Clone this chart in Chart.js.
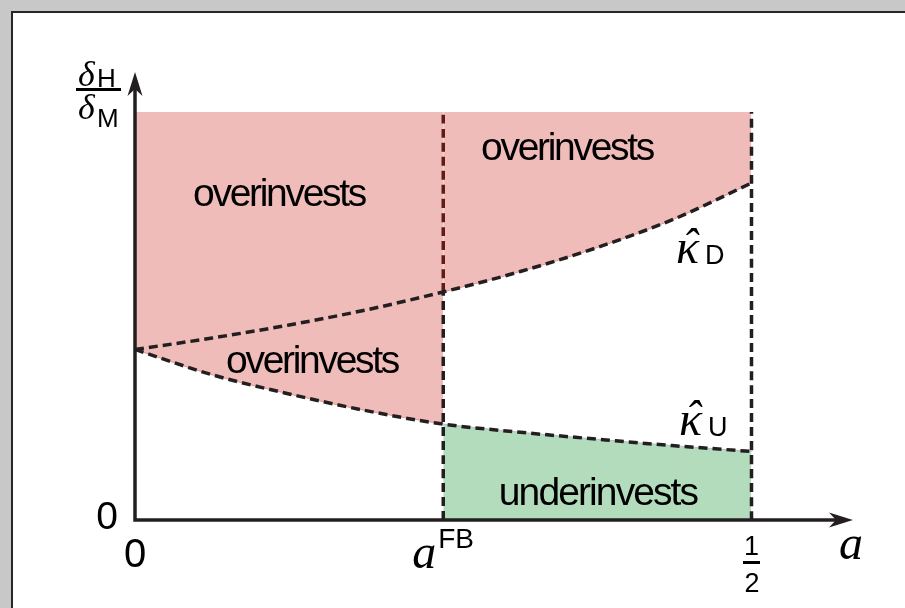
<!DOCTYPE html>
<html>
<head>
<meta charset="utf-8">
<script src="https://cdn.jsdelivr.net/npm/chart.js@4.4.1/dist/chart.umd.min.js"></script>
<style>
  html, body { margin: 0; padding: 0; width: 905px; height: 608px; overflow: hidden; background: #c8c8c8; }
  #panel { position: absolute; left: 11px; top: 11px; width: 910px; height: 610px; background: #fff;
           border-left: 2.5px solid #262626; border-top: 2.5px solid #262626; }
  #chart { position: absolute; left: 0; top: 0; }
</style>
</head>
<body>
<div id="panel"></div>
<canvas id="chart" width="905" height="608"></canvas>
<script>
// a on the horizontal axis, thresholds on the vertical axis (dH/dM, top of plot = 1)
const aValues = [0, 0.0625, 0.125, 0.1875, 0.25, 0.3125, 0.375, 0.4375, 0.5];
const kappaD  = [0.418, 0.446, 0.478, 0.515, 0.559, 0.609, 0.668, 0.738, 0.826];
const kappaU  = [0.418, 0.356, 0.309, 0.268, 0.235, 0.215, 0.198, 0.182, 0.168];
const aFB = 0.25;
const aMax = 0.5;
const yTop = 1;
const xTickValues = [0, aFB, aMax];
const yTickValues = [0];
const regionNames = ['overinvests', 'overinvests', 'overinvests', 'underinvests'];

const ink = '#231f20';
const pink = '#efbcba';
const green = '#b3dcbd';
const SANS = '"Liberation Sans", Arial, sans-serif';
const SERIF = '"Liberation Serif", "Times New Roman", serif';

const iFB = aValues.indexOf(aFB);
function curve(ys, from, to) {
    return aValues.map((a, i) => ({ x: a, y: ys[i] })).filter(p => p.x >= from && p.x <= to);
}

const dashed = (data, color) => ({
    data, borderColor: color, borderWidth: 3.5, borderDash: [9, 5],
    pointRadius: 0, fill: false, clip: false, cubicInterpolationMode: 'monotone'
});
const region = (data, color, edge, target) => ({
    data, backgroundColor: color, borderColor: edge, borderWidth: 1,
    pointRadius: 0, fill: target, clip: false, cubicInterpolationMode: 'monotone'
});

// arrowhead with a notched back, pointing along (dx, dy)
function arrowHead(ctx, tx, ty, dx, dy) {
    const len = 24, half = 7.5, notch = 17;
    const px = -dy, py = dx;
    ctx.beginPath();
    ctx.moveTo(tx, ty);
    ctx.lineTo(tx - dx * len + px * half, ty - dy * len + py * half);
    ctx.lineTo(tx - dx * notch, ty - dy * notch);
    ctx.lineTo(tx - dx * len - px * half, ty - dy * len - py * half);
    ctx.closePath();
    ctx.fill();
}

function put(ctx, s, x, y, font, align, spacing) {
    ctx.font = font;
    ctx.textAlign = align || 'left';
    ctx.textBaseline = 'alphabetic';
    ctx.letterSpacing = spacing || '0px';
    ctx.fillText(s, x, y);
    ctx.letterSpacing = '0px';
}

// hatted kappa with a roman subscript
function kappaHat(ctx, x, y, sub) {
    put(ctx, '\u03BA', x - 1, y, 'italic 48px ' + SERIF);
    put(ctx, '\u02C6', x + 13, y - 3, 'italic 46px ' + SERIF, 'center');
    put(ctx, sub, x + 28, y + 1, '27px ' + SANS);
}

const axesAndLabels = {
    id: 'axesAndLabels',
    afterDraw(chart) {
        const { ctx, scales: { x, y } } = chart;
        const X = v => x.getPixelForValue(v), Y = v => y.getPixelForValue(v);
        const x0 = X(0), y0 = Y(0);
        const xTip = X(0.5823), yTip = Y(1.098);

        ctx.save();
        ctx.fillStyle = ink;
        ctx.strokeStyle = ink;
        ctx.lineWidth = 3.5;
        ctx.lineJoin = 'miter';
        ctx.beginPath();
        ctx.moveTo(x0, yTip + 16);
        ctx.lineTo(x0, y0);
        ctx.lineTo(xTip - 16, y0);
        ctx.stroke();
        arrowHead(ctx, x0, yTip, 0, -1);
        arrowHead(ctx, xTip, y0, 1, 0);

        // tick labels
        ctx.fillStyle = '#000';
        put(ctx, '0', X(yTickValues[0]) - 28, y0 + 9, '39px ' + SANS, 'center');
        put(ctx, '0', X(xTickValues[0]), y0 + 47, '40px ' + SANS, 'center');
        const xf = X(xTickValues[1]);
        put(ctx, 'a', xf - 31, y0 + 48, 'italic 48px ' + SERIF);
        put(ctx, 'FB', xf - 5, y0 + 28, '28px ' + SANS);
        const xh = X(xTickValues[2]);
        put(ctx, '1', xh, y0 + 35, '27px ' + SANS, 'center');
        ctx.fillRect(xh - 8.5, y0 + 41, 17, 3);
        put(ctx, '2', xh + 0.5, y0 + 72, '27px ' + SANS, 'center');

        // axis titles
        put(ctx, 'a', X(0.5823) - 14, y0 + 39, 'italic 48px ' + SERIF);
        const yt = Y(yTop);
        put(ctx, '\u03B4', x0 - 57, yt - 26, 'italic 36px ' + SERIF);
        put(ctx, 'H', x0 - 38, yt - 25, '26px ' + SANS);
        ctx.fillRect(x0 - 59, yt - 24, 45, 3);
        put(ctx, '\u03B4', x0 - 57, yt + 7, 'italic 36px ' + SERIF);
        put(ctx, 'M', x0 - 38, yt + 15, '26px ' + SANS);

        // curve names
        kappaHat(ctx, X(0.4396), Y(0.630), 'D');
        kappaHat(ctx, X(0.4420), Y(0.208), 'U');

        // region names
        const at = [[0.1168, 0.770], [0.3504, 0.882], [0.1436, 0.360], [0.3755, 0.037]];
        regionNames.forEach((s, i) => {
            put(ctx, s, X(at[i][0]), Y(at[i][1]), '39px ' + SANS, 'center', i === 3 ? '-1.9px' : '-2.3px');
        });
        ctx.restore();
    }
};

new Chart(document.getElementById('chart'), {
    type: 'line',
    data: {
        datasets: [
            dashed(curve(kappaD, 0, aMax), ink),
            dashed(curve(kappaU, 0, aMax), ink),
            dashed([{ x: aFB, y: 0 }, { x: aFB, y: kappaD[iFB] }], ink),
            dashed([{ x: aFB, y: kappaD[iFB] }, { x: aFB, y: yTop }], '#5e1c15'),
            dashed([{ x: aMax, y: 0 }, { x: aMax, y: yTop }], ink),
            region(curve(kappaU, 0, aFB), pink, '#e49491', 'end'),
            region(curve(kappaD, aFB, aMax), pink, '#e49491', 'end'),
            region(curve(kappaU, aFB, aMax), green, '#b9bcc3', 'origin')
        ]
    },
    options: {
        responsive: false,
        animation: false,
        events: [],
        layout: { padding: { left: 135, right: 153.5, top: 112, bottom: 88 } },
        scales: {
            x: { type: 'linear', min: 0, max: aMax, display: false },
            y: { type: 'linear', min: 0, max: yTop, display: false }
        },
        plugins: { legend: { display: false }, tooltip: { enabled: false } }
    },
    plugins: [axesAndLabels]
});
</script>
</body>
</html>
